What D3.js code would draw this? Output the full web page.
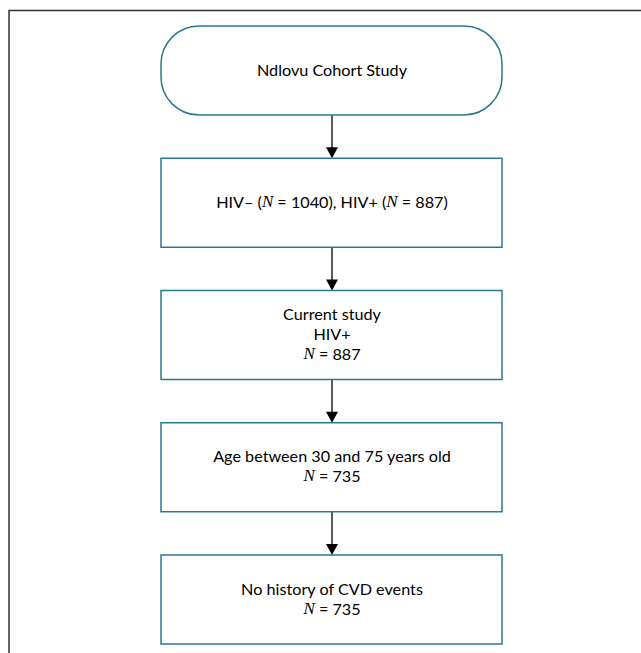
<!DOCTYPE html>
<html>
<head>
<meta charset="utf-8">
<script src="https://cdn.jsdelivr.net/npm/d3@7"></script>
<style>
html,body{margin:0;padding:0;background:#fff;overflow:hidden;}
</style>
</head>
<body>
<svg id="chart" width="641" height="653"></svg>
<script>
// Flowchart steps (text lines; {i:"N"} marks an italic N)
const steps = ["start", "all", "current", "age", "cvd"];
const stepShapes = ["rounded", "rect", "rect", "rect", "rect"];
const stepLines = [
  [["Ndlovu Cohort Study"]],
  [["HIV– (", {i:"N"}, " = 1040), HIV+ (", {i:"N"}, " = 887)"]],
  [["Current study"], ["HIV+"], [{i:"N"}, " = 887"]],
  [["Age between 30 and 75 years old"], [{i:"N"}, " = 735"]],
  [["No history of CVD events"], [{i:"N"}, " = 735"]]
];

const svg = d3.select("#chart");
const boxColor = "#2b7893";

// outer frame (cropped at right and bottom)
svg.append("rect")
  .attr("x", 9).attr("y", 10.5).attr("width", 700).attr("height", 700)
  .attr("fill", "none").attr("stroke", "#333").attr("stroke-width", 1.5);

const boxH = 89;
const y = d3.scalePoint().domain(steps).range([26, 555]);
const x0 = 161, x1 = 502, cx = (x0 + x1) / 2 + 0.5;

// arrows
steps.slice(1).forEach((s, i) => {
  const yStart = y(steps[i]) + boxH;
  const yEnd = y(s);
  svg.append("line")
    .attr("x1", cx).attr("x2", cx).attr("y1", yStart).attr("y2", yEnd - 10)
    .attr("stroke", "#000").attr("stroke-width", 1.3);
  svg.append("path")
    .attr("d", `M${cx-6},${yEnd-11} L${cx+6},${yEnd-11} L${cx},${yEnd} Z`)
    .attr("fill", "#000");
});

// boxes
const g = svg.selectAll("g.step").data(steps).enter().append("g").attr("class", "step");
g.append("rect")
  .attr("x", x0).attr("y", d => y(d))
  .attr("width", x1 - x0).attr("height", boxH)
  .attr("rx", (d, i) => stepShapes[i] === "rounded" ? 38 : 0)
  .attr("fill", "#fff").attr("stroke", boxColor).attr("stroke-width", 1.5);

const lineH = 20;
g.each(function(d, i) {
  const lines = stepLines[i];
  const cy = y(d) + boxH / 2 - 2;
  const top = cy - (lines.length - 1) * lineH / 2;
  lines.forEach((parts, j) => {
    const t = d3.select(this).append("text")
      .attr("x", cx).attr("y", top + j * lineH)
      .attr("text-anchor", "middle").attr("dominant-baseline", "central")
      .attr("font-family", "Lato, 'Open Sans', sans-serif")
      .attr("font-size", 16.2).attr("fill", "#000");
    parts.forEach(p => {
      if (typeof p === "string") {
        t.append("tspan").text(p);
      } else {
        t.append("tspan").text(p.i)
          .attr("font-family", "'Liberation Serif', 'DejaVu Serif', serif")
          .attr("font-style", "italic").attr("font-size", 17);
      }
    });
  });
});
</script>
</body>
</html>
